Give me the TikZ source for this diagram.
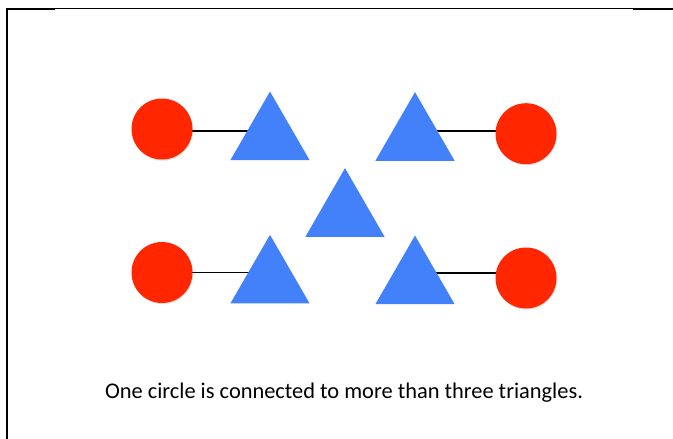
\documentclass[tikz,border=0pt]{standalone}
\usepackage{fontspec}
\setmainfont{Carlito}
\usetikzlibrary{positioning,shapes.geometric,backgrounds,shadows}

\definecolor{dotred}{RGB}{255,38,0}
\definecolor{triblue}{RGB}{66,129,250}

\tikzset{
  dot/.style={circle, fill=dotred, minimum size=61pt, inner sep=0pt,
    drop shadow={shadow xshift=0.6pt, shadow yshift=-1.2pt, opacity=0.25}},
  tri/.style={regular polygon, regular polygon sides=3, fill=triblue,
    minimum size=91.5pt, inner sep=0pt},
  link/.style={black, line width=1.6pt}
}

\begin{document}
\begin{tikzpicture}[x=1pt, y=-1pt]
  \useasboundingbox (0,0) rectangle (673,439);

  % Frame (left side and top edge)
  \draw[black, line width=2pt] (7,439) -- (7,9) -- (55,9);
  \draw[black, line width=1pt] (55,8) -- (633,8);
  \draw[black, line width=2.5pt] (633,9) -- (673,9);

  % Circles
  \node[dot] (c1) at (162,129) {};
  \node[dot] (c2) at (526,133.7) {};
  \node[dot] (c3) at (162,272.5) {};
  \node[dot] (c4) at (526,278) {};

  % Triangles
  \node[tri] (t1) at (270,137.3) {};
  \node[tri] (t2) at (415,137.9) {};
  \node[tri] (t3) at (345,213.9) {};
  \node[tri] (t4) at (270,280.6) {};
  \node[tri] (t5) at (415,281.3) {};

  % Links between circles and triangles
  \begin{scope}[on background layer]
    \draw[link] ([yshift=-1.7pt]c1.center) -- ([yshift=-1.7pt]c1.center -| t1.center);
    \draw[link] ([yshift=3pt]c2.center) -- ([yshift=3pt]c2.center -| t2.center);
    \draw[link] (c3.center) -- (c3.center -| t4.center);
    \draw[link] ([yshift=5.3pt]c4.center) -- ([yshift=5.3pt]c4.center -| t5.center);
  \end{scope}

  % Caption
  \node[anchor=base, font=\fontsize{22.4}{27}\selectfont] (caption) at (344,398)
    {One circle is connected to more than three triangles.};
\end{tikzpicture}
\end{document}
